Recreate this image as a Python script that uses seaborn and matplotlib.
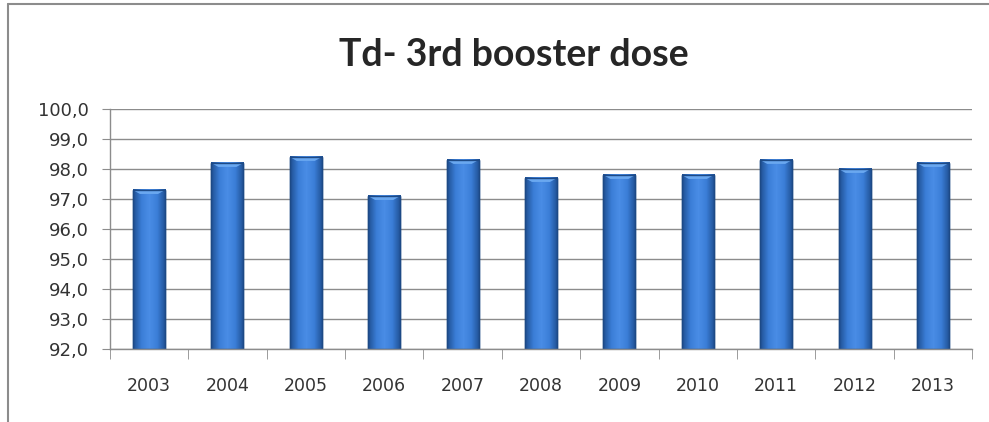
import numpy as np
import pandas as pd
import seaborn as sns
import matplotlib.pyplot as plt
from matplotlib.ticker import FuncFormatter, FixedLocator
from matplotlib.colors import LinearSegmentedColormap

# Data
years = ['2003', '2004', '2005', '2006', '2007', '2008',
         '2009', '2010', '2011', '2012', '2013']
coverage = [97.3, 98.2, 98.4, 97.1, 98.3, 97.7, 97.8, 97.8, 98.3, 98.0, 98.2]

df = pd.DataFrame({'Year': years, 'Coverage': coverage})

sns.set_style('white')
plt.rcParams['font.family'] = ['DejaVu Sans']

fig = plt.figure(figsize=(9.89, 4.22), dpi=100)
ax = fig.add_axes([0.111, 0.172, 0.872, 0.570])

sns.barplot(x='Year', y='Coverage', data=df, color='#3a7bd5', width=0.41,
            edgecolor='#1d4a86', linewidth=1.0, ax=ax)

ymin, ymax = 92, 100
ax.set_ylim(ymin, ymax)
ax.set_xlim(-0.5, len(years) - 0.5)

# bevel-like gradient on each bar (only the visible part above ymin)
cmap = LinearSegmentedColormap.from_list(
    'bevel', ['#1f4f91', '#3a7dd6', '#4a8de6', '#3a7dd6', '#1f4f91'])
grad = np.linspace(0, 1, 64).reshape(1, -1)
for p in list(ax.patches):
    x0, w = p.get_x(), p.get_width()
    top = p.get_y() + p.get_height()
    im = ax.imshow(grad, extent=[x0, x0 + w, ymin, top], cmap=cmap,
                   aspect='auto', zorder=p.get_zorder() + 0.1)
    # lighter cap on top
    ax.fill([x0, x0 + w, x0 + w * 0.78, x0 + w * 0.22],
            [top, top, top - 0.13, top - 0.13],
            color='#6aa8f0', zorder=p.get_zorder() + 0.2, lw=0)
    ax.plot([x0, x0 + w, x0 + w, x0, x0], [ymin, ymin, top, top, ymin],
            color='#1d4a86', lw=1.0, zorder=p.get_zorder() + 0.3)
ax.set_xlim(-0.5, len(years) - 0.5)
ax.set_ylim(ymin, ymax)

# gridlines and axes
ax.yaxis.grid(True, color='#8c8c8c', linewidth=1.0)
ax.set_axisbelow(True)
for s in ['top', 'right']:
    ax.spines[s].set_visible(False)
for s in ['left', 'bottom']:
    ax.spines[s].set_color('#8c8c8c')
    ax.spines[s].set_linewidth(1.0)

ax.set_yticks(np.arange(92, 101, 1))
ax.yaxis.set_major_formatter(FuncFormatter(lambda v, _: f'{v:.1f}'.replace('.', ',')))
ax.tick_params(axis='y', length=6, color='#8c8c8c', labelsize=13,
               labelcolor='#333333', pad=9, direction='out', left=True)

ax.xaxis.set_minor_locator(FixedLocator(np.arange(-0.5, len(years), 1)))
ax.tick_params(axis='x', which='major', length=0, labelsize=12.5,
               labelcolor='#333333', pad=20)
ax.tick_params(axis='x', which='minor', length=7, color='#8c8c8c',
               direction='out', bottom=True)

ax.set_xlabel('')
ax.set_ylabel('')

fig.text(0.52, 0.87, 'Td- 3rd booster dose', ha='center', va='center',
         fontsize=27, fontweight='bold', family=['Lato', 'DejaVu Sans'])

# outer chart frame (top and left edges visible in the reference)
fig.add_artist(plt.Line2D([0.008, 1.0], [0.99, 0.99], color='#8c8c8c',
                          linewidth=1.5, transform=fig.transFigure))
fig.add_artist(plt.Line2D([0.008, 0.008], [0.0, 0.99], color='#8c8c8c',
                          linewidth=1.5, transform=fig.transFigure))

fig.savefig('out.png', dpi=100)
